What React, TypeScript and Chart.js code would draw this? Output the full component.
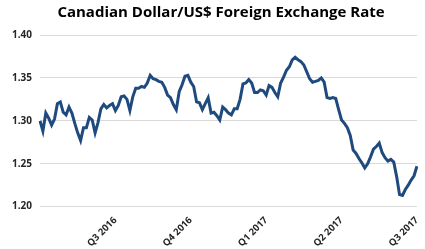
import React, { useEffect, useRef } from "react";
import { Chart, registerables } from "chart.js";

Chart.register(...registerables);

const TITLE = "Canadian Dollar/US$ Foreign Exchange Rate";
const quarterLabels = ["Q3 2016", "Q4 2016", "Q1 2017", "Q2 2017", "Q3 2017"];
const pointsPerQuarter = 26;
const yTicks = [1.2, 1.25, 1.3, 1.35, 1.4];

// CAD per US$, sampled roughly every 2.5 trading days from Apr 2016 to Jul 2017
const rates = [
  1.300, 1.288, 1.309, 1.303, 1.295, 1.302, 1.320, 1.322, 1.310, 1.307,
  1.316, 1.309, 1.297, 1.286, 1.277, 1.292, 1.292, 1.304, 1.301, 1.286,
  1.298, 1.314, 1.319, 1.315, 1.318, 1.320, 1.312, 1.318, 1.328, 1.329,
  1.325, 1.312, 1.328, 1.338, 1.338, 1.340, 1.339, 1.344, 1.353, 1.349,
  1.348, 1.346, 1.345, 1.339, 1.330, 1.327, 1.319, 1.313, 1.334, 1.342,
  1.352, 1.353, 1.345, 1.340, 1.322, 1.321, 1.313, 1.320, 1.327, 1.309,
  1.310, 1.306, 1.301, 1.316, 1.313, 1.309, 1.307, 1.314, 1.314, 1.325,
  1.343, 1.344, 1.348, 1.344, 1.333, 1.333, 1.336, 1.335, 1.330, 1.341,
  1.339, 1.333, 1.328, 1.344, 1.351, 1.359, 1.363, 1.371, 1.374, 1.371,
  1.369, 1.365, 1.357, 1.349, 1.345, 1.346, 1.347, 1.350, 1.345, 1.327,
  1.326, 1.327, 1.326, 1.313, 1.301, 1.297, 1.292, 1.283, 1.266, 1.262,
  1.256, 1.251, 1.245, 1.250, 1.258, 1.267, 1.270, 1.274, 1.263, 1.257,
  1.253, 1.255, 1.252, 1.235, 1.214, 1.213, 1.220, 1.225, 1.231, 1.236,
  1.247,
];

const labels = rates.map((_, i) =>
  i > 0 && i % pointsPerQuarter === 0 ? quarterLabels[i / pointsPerQuarter - 1] ?? "" : ""
);

const titlePlugin = {
  id: "customTitle",
  afterDraw(chart: Chart) {
    const c = chart.ctx;
    c.save();
    c.font = "bold 15px 'Open Sans'";
    c.fillStyle = "#000000";
    c.textAlign = "center";
    c.textBaseline = "middle";
    c.fillText(TITLE, 221, 13);
    c.restore();
  },
};

export default function App() {
  const ref = useRef<HTMLCanvasElement>(null);

  useEffect(() => {
    document.body.style.margin = "0";
    const ctx = ref.current!;
    const chart = new Chart(ctx, {
      type: "line",
      data: {
        labels,
        datasets: [
          {
            data: rates,
            borderColor: "#1f4a7e",
            borderWidth: 3,
            pointRadius: 0,
            tension: 0,
            fill: false,
          },
        ],
      },
      options: {
        animation: false,
        responsive: false,
        maintainAspectRatio: false,
        layout: { padding: { left: 4, right: 6, top: 35, bottom: 0 } },
        plugins: {
          legend: { display: false },
          tooltip: { enabled: false },
          title: { display: false },
        },
        scales: {
          x: {
            grid: { display: false },
            border: { display: false },
            ticks: {
              autoSkip: false,
              minRotation: 45,
              maxRotation: 45,
              color: "#262626",
              font: { family: "'Open Sans'", size: 9.5, weight: "bold" },
              padding: 0,
              callback: (_v, i) => labels[i as number],
            },
          },
          y: {
            min: 1.2,
            max: 1.4,
            afterBuildTicks: (axis) => {
              axis.ticks = yTicks.map((v) => ({ value: v }));
            },
            grid: { color: "#d9d9d9", drawTicks: false, lineWidth: 1 },
            border: { display: false },
            ticks: {
              color: "#262626",
              padding: 8,
              font: { family: "'Open Sans'", size: 10, weight: "bold" },
              callback: (v) => Number(v).toFixed(2),
            },
          },
        },
      },
      plugins: [titlePlugin],
    });
    return () => chart.destroy();
  }, []);

  return (
    <div style={{ position: "absolute", left: 0, top: 0, width: 425, height: 249 }}>
      <canvas ref={ref} width={425} height={249} style={{ width: 425, height: 249 }} />
    </div>
  );
}
